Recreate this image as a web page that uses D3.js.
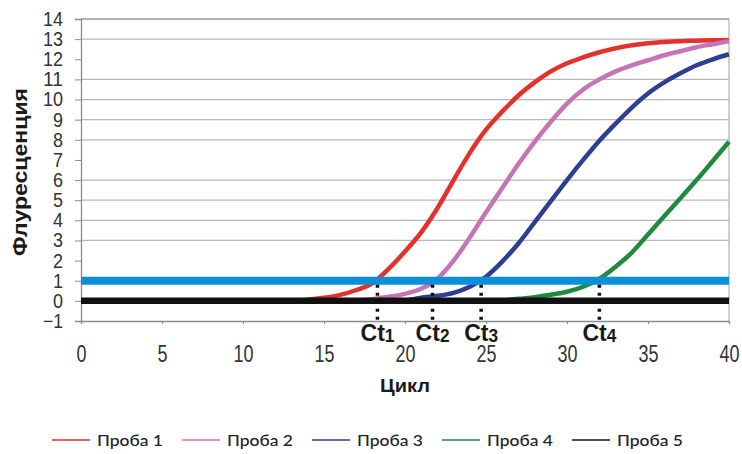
<!DOCTYPE html>
<html>
<head>
<meta charset="utf-8">
<script src="https://cdn.jsdelivr.net/npm/d3@7"></script>
<style>
  body { margin: 0; background: #fff; }
  svg { display: block; }
  .narrow { font-family: "Liberation Sans", Arial, sans-serif; }
</style>
</head>
<body>
<div id="chart"></div>
<script>
// qPCR amplification curves, fluorescence by cycle
const cycles = [0,1,2,3,4,5,6,7,8,9,10,11,12,13,14,15,16,17,18,19,20,
                21,22,23,24,25,26,27,28,29,30,31,32,33,34,35,36,37,38,39,40];
const _ = null;
const probe1 = [_,_,_,_,_,_,_,_,_,_,_,_,_,0,0.05,0.15,0.3,0.54,0.88,1.6,2.45,
                3.4,4.6,6.0,7.35,8.5,9.4,10.2,10.85,11.4,11.8,12.1,12.35,12.55,12.7,12.8,12.86,12.9,12.92,12.94,12.95];
const probe2 = [_,_,_,_,_,_,_,_,_,_,_,_,_,_,_,_,_,0,0.08,0.2,0.35,
                0.6,1.1,2.0,3.15,4.4,5.6,6.8,7.9,8.9,9.8,10.5,11.0,11.4,11.7,11.95,12.2,12.4,12.6,12.75,12.9];
const probe3 = [_,_,_,_,_,_,_,_,_,_,_,_,_,_,_,_,_,_,_,_,0,
                0.15,0.25,0.4,0.7,1.2,1.95,2.85,3.9,4.95,6.0,7.0,7.95,8.8,9.6,10.3,10.85,11.3,11.7,12.0,12.25];
const probe4 = [_,_,_,_,_,_,_,_,_,_,_,_,_,_,_,_,_,_,_,_,_,
                _,_,_,_,_,0,0.1,0.18,0.3,0.45,0.7,1.1,1.7,2.4,3.3,4.2,5.1,6.0,6.95,7.9];
const probe5 = [0,0,0,0,0,0,0,0,0,0,0,0,0,0,0,0,0,0,0,0,0,
                0,0,0,0,0,0,0,0,0,0,0,0,0,0,0,0,0,0,0,0];

const seriesNames = ["Проба 1", "Проба 2", "Проба 3", "Проба 4", "Проба 5"];
const seriesValues = [probe1, probe2, probe3, probe4, probe5];
const seriesColors = ["#e4312b", "#c774b6", "#2f3d92", "#1f8a3c", "#111111"];

const threshold = 1;
const ctValues = [18.3, 21.7, 24.7, 32.0];
const ctDigits = ["1", "2", "3", "4"];

const xTicks = [0, 5, 10, 15, 20, 25, 30, 35, 40];
const yTicks = [-1,0,1,2,3,4,5,6,7,8,9,10,11,12,13,14];
const gridValues = [3, 4, 5, 6, 8, 9, 10, 11, 13];

const W = 742, H = 454;
const margin = {top: 19, right: 13, bottom: 133, left: 81};
const width = W - margin.left - margin.right;
const height = H - margin.top - margin.bottom;

const svg = d3.select("#chart").append("svg").attr("width", W).attr("height", H);
const g = svg.append("g").attr("transform", `translate(${margin.left},${margin.top})`);

const x = d3.scaleLinear().domain([0, 40]).range([0, width]);
const y = d3.scaleLinear().domain([-1, 14]).range([height, 0]);

// squeeze label glyphs to look like the condensed face of the original
const condense = (sel, perChar) => sel
    .attr("textLength", d => String(d).length * perChar)
    .attr("lengthAdjust", "spacingAndGlyphs");

// grid
g.append("g").selectAll("line").data(gridValues).join("line")
    .attr("x1", 0).attr("x2", width)
    .attr("y1", d => y(d)).attr("y2", d => y(d))
    .attr("stroke", "#b9b9b9").attr("stroke-width", 1.2);

// frame: top and right borders
g.append("line").attr("x1", 0).attr("x2", width).attr("y1", y(14)).attr("y2", y(14))
    .attr("stroke", "#9a9a9a").attr("stroke-width", 1.5);
g.append("line").attr("x1", width).attr("x2", width).attr("y1", y(14)).attr("y2", y(-1))
    .attr("stroke", "#b0b0b0").attr("stroke-width", 1.2);

// axes
const yAxis = g.append("g").attr("class", "narrow")
    .call(d3.axisLeft(y).tickValues(yTicks).tickSize(6).tickPadding(12));
yAxis.select(".domain").attr("stroke", "#8a8a8a").attr("stroke-width", 1.3);
yAxis.selectAll(".tick line").attr("stroke", "#8a8a8a");
yAxis.selectAll("text").attr("font-size", 20).attr("fill", "#333").call(condense, 10);

const xAxis = g.append("g").attr("class", "narrow").attr("transform", `translate(0,${height})`)
    .call(d3.axisBottom(x).tickValues(xTicks).tickSize(3).tickPadding(22));
xAxis.select(".domain").attr("stroke", "#8a8a8a").attr("stroke-width", 1.3);
xAxis.selectAll(".tick line").attr("stroke", "#8a8a8a");
xAxis.selectAll("text").attr("font-size", 23).attr("fill", "#333").call(condense, 10);

// curves
const line = d3.line()
    .defined(d => d.v !== null)
    .x(d => x(d.c)).y(d => y(d.v))
    .curve(d3.curveMonotoneX);

seriesValues.slice(0, 4).forEach((vals, i) => {
    g.append("path")
        .datum(cycles.map((c, k) => ({c, v: vals[k]})))
        .attr("d", line)
        .attr("fill", "none")
        .attr("stroke", seriesColors[i])
        .attr("stroke-width", 4.5);
});

// threshold line
g.append("line").attr("x1", 0).attr("x2", width)
    .attr("y1", y(threshold)).attr("y2", y(threshold))
    .attr("stroke", "#0b8fd8").attr("stroke-width", 8);

// probe 5 (flat)
g.append("path")
    .datum(cycles.map((c, k) => ({c, v: probe5[k]})))
    .attr("d", line)
    .attr("fill", "none").attr("stroke", seriesColors[4]).attr("stroke-width", 6.5);

// Ct markers
g.append("g").selectAll("line").data(ctValues).join("line")
    .attr("x1", d => x(d)).attr("x2", d => x(d))
    .attr("y1", y(threshold) + 4).attr("y2", height + 2)
    .attr("stroke", "#111").attr("stroke-width", 3.5)
    .attr("stroke-dasharray", "3,5");

const ctText = g.append("g").attr("class", "narrow").selectAll("text").data(ctValues).join("text")
    .attr("x", d => x(d)).attr("y", height + 20)
    .attr("text-anchor", "middle")
    .attr("textLength", 34).attr("lengthAdjust", "spacingAndGlyphs")
    .attr("font-size", 24).attr("font-weight", "bold").attr("fill", "#1a1a1a");
ctText.append("tspan").text("Ct");
ctText.append("tspan").attr("font-size", 18).attr("dy", 1).text((d, i) => ctDigits[i]);

// axis titles
g.append("text")
    .attr("x", x(20)).attr("y", height + 71)
    .attr("text-anchor", "middle")
    .attr("font-family", "Liberation Sans, sans-serif")
    .attr("textLength", 50).attr("lengthAdjust", "spacingAndGlyphs")
    .attr("font-size", 19).attr("font-weight", "bold").attr("fill", "#1a1a1a")
    .text("Цикл");

svg.append("text")
    .attr("transform", `translate(27,${margin.top + 153}) rotate(-90)`)
    .attr("text-anchor", "middle")
    .attr("font-family", "Liberation Sans, sans-serif")
    .attr("textLength", 168).attr("lengthAdjust", "spacingAndGlyphs")
    .attr("font-size", 20).attr("font-weight", "bold").attr("fill", "#1a1a1a")
    .text("Флуресценция");

// legend
const legend = svg.append("g").attr("transform", "translate(52,440)");
const item = legend.selectAll("g").data(seriesNames).join("g")
    .attr("transform", (d, i) => `translate(${i * 130},0)`);
item.append("line").attr("x1", 0).attr("x2", 38).attr("y1", 0).attr("y2", 0)
    .attr("stroke", (d, i) => seriesColors[i]).attr("stroke-width", 1.5);
item.append("text").attr("x", 45).attr("dy", "0.36em")
    .attr("font-family", "Lato, sans-serif").attr("font-size", 16).attr("font-weight", 500)
    .attr("textLength", 66).attr("lengthAdjust", "spacingAndGlyphs")
    .attr("fill", "#222")
    .text(d => d);
</script>
</body>
</html>
